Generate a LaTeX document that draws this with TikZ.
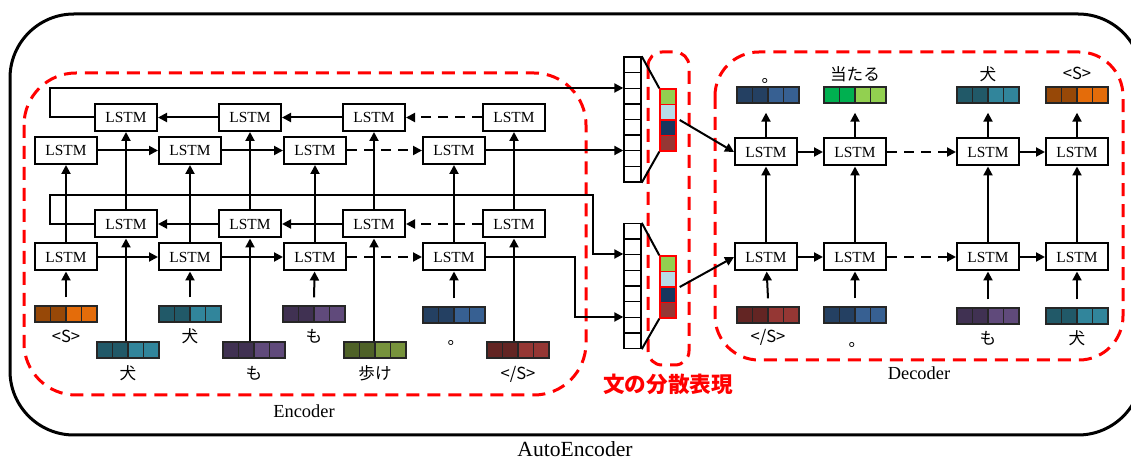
\documentclass[tikz,border=0pt]{standalone}
\usepackage{fontspec}
\setmainfont{Liberation Serif}
\newfontfamily\jpfont{Noto Sans CJK JP}
\usepackage{tikz}
\usetikzlibrary{arrows.meta,calc}
\definecolor{orgD}{RGB}{151,72,7}
\definecolor{orgL}{RGB}{228,108,10}
\definecolor{tealD}{RGB}{33,89,104}
\definecolor{tealL}{RGB}{49,133,155}
\definecolor{purD}{RGB}{64,49,82}
\definecolor{purL}{RGB}{96,74,123}
\definecolor{oliD}{RGB}{79,98,40}
\definecolor{oliL}{RGB}{119,147,60}
\definecolor{navD}{RGB}{36,64,98}
\definecolor{navL}{RGB}{55,96,146}
\definecolor{redD}{RGB}{99,37,35}
\definecolor{redL}{RGB}{149,55,52}
\definecolor{grnD}{RGB}{0,176,80}
\definecolor{grnL}{RGB}{146,208,80}
\definecolor{vecB}{RGB}{183,221,232}
\definecolor{vecN}{RGB}{23,55,94}
\newcommand{\ppbb}{path picture bounding box}

\begin{document}
\begin{tikzpicture}[x=0.5pt, y=-0.5pt, line width=1pt,
  >={Triangle[length=4.5pt, width=4.5pt]},
  lstm/.style={draw, fill=white, minimum width=31pt, minimum height=13.5pt,
    inner sep=0pt, font=\fontsize{7.7}{9}\selectfont},
  emb/.style 2 args={draw=black!85, line width=0.7pt, minimum width=31pt,
    minimum height=8pt, inner sep=0pt,
    path picture={
      \fill[#1] (\ppbb.south west) rectangle (\ppbb.north);
      \fill[#2] (\ppbb.south) rectangle (\ppbb.north east);
      \foreach \k in {0.25,0.5,0.75}
        \draw[black!85, line width=0.7pt] ($(\ppbb.south west)!\k!(\ppbb.south east)$)
          -- ($(\ppbb.north west)!\k!(\ppbb.north east)$);}},
  hidvec/.style={draw, line width=0.7pt, minimum width=8.5pt, minimum height=62.5pt,
    inner sep=0pt,
    path picture={
      \foreach \k in {1,...,7}
        \draw[line width=0.7pt] ($(\ppbb.north west)!\k/8!(\ppbb.south west)$)
          -- ($(\ppbb.north east)!\k/8!(\ppbb.south east)$);}},
  sentvec/.style={draw=red, line width=0.7pt, minimum width=8pt, minimum height=31pt,
    inner sep=0pt,
    path picture={
      \fill[grnL] (\ppbb.north west) rectangle ($(\ppbb.north east)!0.25!(\ppbb.south east)$);
      \fill[vecB] ($(\ppbb.north west)!0.25!(\ppbb.south west)$) rectangle (\ppbb.east);
      \fill[vecN] (\ppbb.west) rectangle ($(\ppbb.north east)!0.75!(\ppbb.south east)$);
      \fill[redL] ($(\ppbb.north west)!0.75!(\ppbb.south west)$) rectangle (\ppbb.south east);
      \foreach \k in {0.25,0.5,0.75}
        \draw[red, line width=0.7pt] ($(\ppbb.north west)!\k!(\ppbb.south west)$)
          -- ($(\ppbb.north east)!\k!(\ppbb.south east)$);}},
  word/.style={font=\jpfont\fontsize{8.3}{10}\selectfont, inner sep=0pt, anchor=base},
  caption/.style={font=\fontsize{9.2}{11}\selectfont, inner sep=0pt, anchor=base},
  redbox/.style={red, line width=1.5pt, dash pattern=on 6.5pt off 4pt},
  dashline/.style={dash pattern=on 5pt off 3.5pt}]
  \clip (0,0) rectangle (1131,459);
  \draw[line width=1.5pt, rounded corners=32pt] (10,14) rectangle (1142,435);
  \node[caption, font=\fontsize{10.8}{12}\selectfont] (ae) at (575,457) {AutoEncoder};

  % encoder
  \draw[redbox, rounded corners=26pt] (24,73) rectangle (586,395);
  \node[caption] (enc) at (304,418) {Encoder};
  \node[lstm] (tb1) at (126,117.5) {LSTM};
  \node[lstm] (tb2) at (250,117.5) {LSTM};
  \node[lstm] (tb3) at (374,117.5) {LSTM};
  \node[lstm] (tb4) at (514,117.5) {LSTM};
  \node[lstm] (tf1) at (66,150.5) {LSTM};
  \node[lstm] (tf2) at (190,150.5) {LSTM};
  \node[lstm] (tf3) at (315,150.5) {LSTM};
  \node[lstm] (tf4) at (454,150.5) {LSTM};
  \node[lstm] (eb1) at (126,224) {LSTM};
  \node[lstm] (eb2) at (250,224) {LSTM};
  \node[lstm] (eb3) at (374,224) {LSTM};
  \node[lstm] (eb4) at (514,224) {LSTM};
  \node[lstm] (ef1) at (66,257) {LSTM};
  \node[lstm] (ef2) at (190,257) {LSTM};
  \node[lstm] (ef3) at (315,257) {LSTM};
  \node[lstm] (ef4) at (454,257) {LSTM};

  \node[emb={orgD}{orgL}] (fi1) at (66,314) {};
  \node[emb={tealD}{tealL}] (fi2) at (190,314) {};
  \node[emb={purD}{purL}] (fi3) at (314,314) {};
  \node[emb={navD}{navL}] (fi4) at (454,315) {};
  \node[emb={tealD}{tealL}] (bi1) at (128,350) {};
  \node[emb={purD}{purL}] (bi2) at (254,350) {};
  \node[emb={oliD}{oliL}] (bi3) at (375,350) {};
  \node[emb={redD}{redL}] (bi4) at (518,350) {};
  \node[word] (fw1) at (66,343) {<S>};
  \node[word] (fw2) at (190,343) {犬};
  \node[word] (fw3) at (314,343) {も};
  \node[word] (fw4) at (456,345) {。};
  \node[word] (bw1) at (128,380) {犬};
  \node[word] (bw2) at (254,380) {も};
  \node[word] (bw3) at (375,380) {歩け};
  \node[word] (bw4) at (518,380) {</S>};

  \draw[->] ([yshift=4pt]fi1.north) -- (ef1);
  \draw[->] ([yshift=4pt]fi2.north) -- (ef2);
  \draw[->] ([yshift=4pt]fi3.north) -- (ef3);
  \draw[->] ([yshift=4pt]fi4.north) -- (ef4);
  \draw[->] (bi1.north -| eb1) -- (eb1);
  \draw[->] (bi2.north -| eb2) -- (eb2);
  \draw[->] (bi3.north -| eb3) -- (eb3);
  \draw[->] (bi4.north -| eb4) -- (eb4);
  \draw[->] (ef1) -- (tf1);
  \draw[->] (ef2) -- (tf2);
  \draw[->] (ef3) -- (tf3);
  \draw[->] (ef4) -- (tf4);
  \draw[->] (eb1) -- (tb1);
  \draw[->] (eb2) -- (tb2);
  \draw[->] (eb3) -- (tb3);
  \draw[->] (eb4) -- (tb4);

  \draw[->] (tf1) -- (tf2);
  \draw[->] (tf2) -- (tf3);
  \draw[->, dashline] (tf3) -- (tf4);
  \draw[->, dashline] (tb4) -- (tb3);
  \draw[->] (tb3) -- (tb2);
  \draw[->] (tb2) -- (tb1);
  \draw[->] (ef1) -- (ef2);
  \draw[->] (ef2) -- (ef3);
  \draw[->, dashline] (ef3) -- (ef4);
  \draw[->, dashline] (eb4) -- (eb3);
  \draw[->] (eb3) -- (eb2);
  \draw[->] (eb2) -- (eb1);

  % sentence vectors
  \node[hidvec] (hv1) at (632.5,119.5) {};
  \node[hidvec] (hv2) at (632.5,286) {};
  \node[sentvec] (sv1) at (668,120) {};
  \node[sentvec] (sv2) at (668,287) {};
  \draw[redbox, rounded corners=7pt] (648,52) rectangle (689,365);
  \node[word, font=\jpfont\bfseries\fontsize{10.8}{12}\selectfont, red]
    (rep) at (668,393) {文の分散表現};
  \draw (hv1.north east) -- (sv1.north west);
  \draw (hv1.south east) -- (sv1.south west);
  \draw (hv2.north east) -- (sv2.north west);
  \draw (hv2.south east) -- (sv2.south west);

  \coordinate (tl) at (50,88);
  \coordinate (bl) at (50,195);
  \coordinate (bm) at (593,254);
  \coordinate (br) at (575,317);
  \draw[->] (tb1.west) -| (tl) -- (tl -| hv1.west);
  \draw[->] (tf4.east) -- (tf4 -| hv1.west);
  \draw[->] (eb1.west) -| (bl) -| (bm) -- (bm -| hv2.west);
  \draw[->] (ef4.east) -| (br) -- (br -| hv2.west);

  % decoder
  \draw[redbox, rounded corners=22pt] (715,52) rectangle (1123,360);
  \node[caption] (dec) at (919,380) {Decoder};
  \node[lstm] (dt1) at (766,152) {LSTM};
  \node[lstm] (dt2) at (855,152) {LSTM};
  \node[lstm] (dt3) at (988,152) {LSTM};
  \node[lstm] (dt4) at (1077,152) {LSTM};
  \node[lstm] (db1) at (766,257) {LSTM};
  \node[lstm] (db2) at (855,257) {LSTM};
  \node[lstm] (db3) at (988,257) {LSTM};
  \node[lstm] (db4) at (1077,257) {LSTM};

  \node[emb={navD}{navL}] (do1) at (768,95) {};
  \node[emb={grnD}{grnL}] (do2) at (855,95) {};
  \node[emb={tealD}{tealL}] (do3) at (988,95) {};
  \node[emb={orgD}{orgL}] (do4) at (1077,95) {};
  \node[emb={redD}{redL}] (di1) at (768,315) {};
  \node[emb={navD}{navL}] (di2) at (855,315) {};
  \node[emb={purD}{purL}] (di3) at (988,316) {};
  \node[emb={tealD}{tealL}] (di4) at (1077,316) {};
  \node[word] (dw1) at (770,83) {。};
  \node[word] (dw2) at (855,81) {当たる};
  \node[word] (dw3) at (988,81) {犬};
  \node[word] (dw4) at (1077,80) {<S>};
  \node[word] (iw1) at (768,343) {</S>};
  \node[word] (iw2) at (857,347) {。};
  \node[word] (iw3) at (988,345) {も};
  \node[word] (iw4) at (1077,345) {犬};

  \draw[->] ([yshift=4pt]di1.north) -- (db1);
  \draw[->] ([yshift=4pt]di2.north) -- (db2);
  \draw[->] ([yshift=4pt]di3.north) -- (db3);
  \draw[->] ([yshift=4pt]di4.north) -- (db4);
  \draw[->] (db1) -- (dt1);
  \draw[->] (db2) -- (dt2);
  \draw[->] (db3) -- (dt3);
  \draw[->] (db4) -- (dt4);
  \draw[->] (dt1) -- ([yshift=-4.5pt]do1.south -| dt1);
  \draw[->] (dt2) -- ([yshift=-4.5pt]do2.south -| dt2);
  \draw[->] (dt3) -- ([yshift=-4.5pt]do3.south -| dt3);
  \draw[->] (dt4) -- ([yshift=-4.5pt]do4.south -| dt4);
  \draw[->] (dt1) -- (dt2);
  \draw[->, dashline] (dt2) -- (dt3);
  \draw[->] (dt3) -- (dt4);
  \draw[->] (db1) -- (db2);
  \draw[->, dashline] (db2) -- (db3);
  \draw[->] (db3) -- (db4);
  \draw[->] ([xshift=1.5pt]sv1.east) -- (dt1.west);
  \draw[->] ([xshift=1.5pt]sv2.east) -- (db1.west);
\end{tikzpicture}
\end{document}
